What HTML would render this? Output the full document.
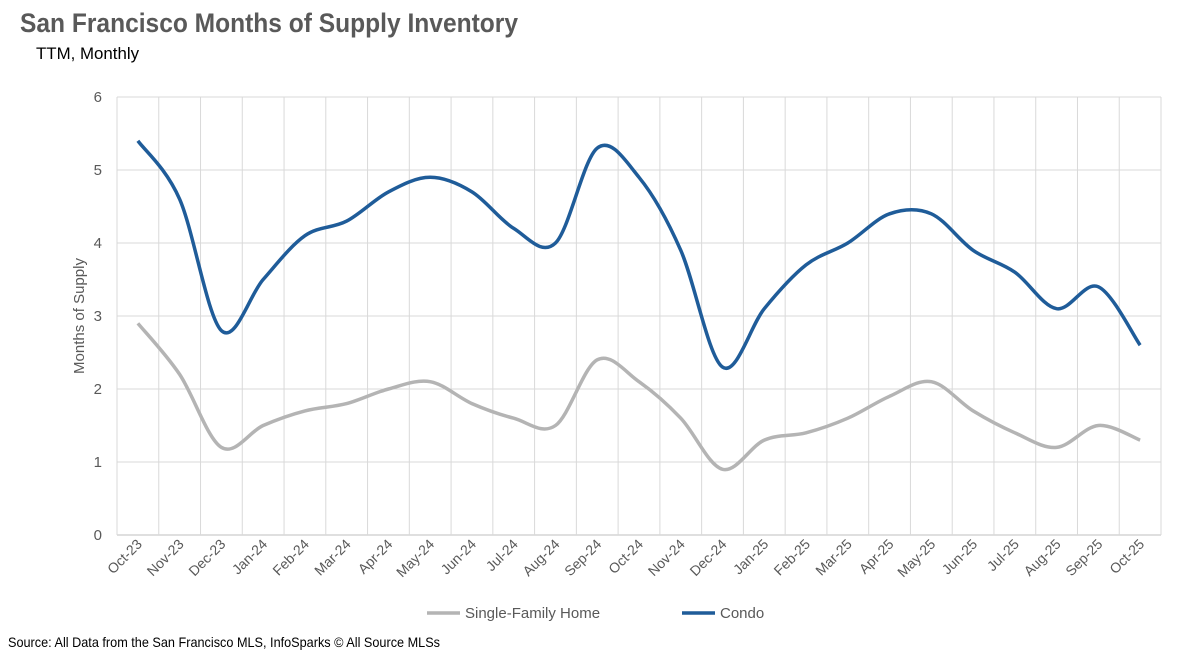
<!DOCTYPE html>
<html><head><meta charset="utf-8"><style>
html,body{margin:0;padding:0;background:#fff;}
svg{display:block;font-family:"Liberation Sans Narrow","Liberation Sans",sans-serif;}
</style></head><body>
<svg id="chart" width="1186" height="662" viewBox="0 0 1186 662">
<text x="20" y="32" font-size="27" font-weight="bold" fill="#595959" textLength="498" lengthAdjust="spacingAndGlyphs">San Francisco Months of Supply Inventory</text>
<text x="36" y="59" font-size="17" fill="#000" textLength="103" lengthAdjust="spacingAndGlyphs">TTM, Monthly</text>
<g id="grid"></g>
<g id="yaxis"></g>
<g id="xaxis"></g>
<text transform="translate(84,316) rotate(-90)" text-anchor="middle" font-size="15" fill="#595959">Months of Supply</text>
<g id="series"></g>
<g>
<g><line x1="427" y1="613" x2="460" y2="613" stroke="#b4b4b4" stroke-width="3.5"/><text x="465" y="618" font-size="15" fill="#595959">Single-Family Home</text></g>
<g><line x1="682" y1="613" x2="715" y2="613" stroke="#1f5c99" stroke-width="3.5"/><text x="720" y="618" font-size="15" fill="#595959">Condo</text></g>
</g>
<text x="8" y="647" font-size="14" fill="#000" textLength="432" lengthAdjust="spacingAndGlyphs">Source: All Data from the San Francisco MLS, InfoSparks © All Source MLSs</text>
</svg>
<script>
const categories=["Oct-23","Nov-23","Dec-23","Jan-24","Feb-24","Mar-24","Apr-24","May-24","Jun-24","Jul-24","Aug-24","Sep-24","Oct-24","Nov-24","Dec-24","Jan-25","Feb-25","Mar-25","Apr-25","May-25","Jun-25","Jul-25","Aug-25","Sep-25","Oct-25"];
const sfhValues=[2.9,2.2,1.2,1.5,1.7,1.8,2.0,2.1,1.8,1.6,1.5,2.4,2.1,1.6,0.9,1.3,1.4,1.6,1.9,2.1,1.7,1.4,1.2,1.5,1.3];
const condoValues=[5.4,4.6,2.8,3.5,4.1,4.3,4.7,4.9,4.7,4.2,4.0,5.3,4.9,3.9,2.3,3.1,3.7,4.0,4.4,4.4,3.9,3.6,3.1,3.4,2.6];
const yTicks=[0,1,2,3,4,5,6];
const NS="http://www.w3.org/2000/svg";
const L=117,R=1161,T=97,B=535,yMax=6;
const bw=(R-L)/categories.length;
const xs=i=>L+bw*(i+0.5);
const ys=v=>B-(v/yMax)*(B-T);
function mk(t,a,p){const e=document.createElementNS(NS,t);for(const k in a)e.setAttribute(k,a[k]);p.appendChild(e);return e;}
const grid=document.getElementById('grid'),ya=document.getElementById('yaxis'),xa=document.getElementById('xaxis'),se=document.getElementById('series');
yTicks.forEach(v=>{
  const l=mk('line',{x1:L,x2:R,y1:ys(v),y2:ys(v),stroke:v===0?'#bfbfbf':'#d9d9d9','stroke-width':1},grid);
  
  
  const t=mk('text',{x:102,y:ys(v)+5,'text-anchor':'end','font-size':15,fill:'#595959'},ya);
  t.textContent=v;
  
  
});
for(let i=0;i<=categories.length;i++){
  const l=mk('line',{x1:L+bw*i,x2:L+bw*i,y1:T,y2:B,stroke:'#d9d9d9','stroke-width':1},grid);
  
  
}
categories.forEach((c,i)=>{
  const x=xs(i)+5,y=545;
  const t=mk('text',{x:x,y:y,'text-anchor':'end','font-size':14,fill:'#595959',transform:`rotate(-45 ${x} ${y})`},xa);
  t.textContent=c;
  
  
});
function smooth(vals){
  const p=vals.map((v,i)=>[xs(i),ys(v)]);
  let d=`M${p[0][0]},${p[0][1]}`;
  for(let i=0;i<p.length-1;i++){
    const p0=p[i-1]||p[i],p1=p[i],p2=p[i+1],p3=p[i+2]||p[i+1],k=1/6;
    d+=` C${p1[0]+(p2[0]-p0[0])*k},${p1[1]+(p2[1]-p0[1])*k} ${p2[0]-(p3[0]-p1[0])*k},${p2[1]-(p3[1]-p1[1])*k} ${p2[0]},${p2[1]}`;
  }
  return d;
}
const s1=mk('path',{d:smooth(sfhValues),fill:'none',stroke:'#b4b4b4','stroke-width':3.5,'stroke-linejoin':'round'},se);


const s2=mk('path',{d:smooth(condoValues),fill:'none',stroke:'#1f5c99','stroke-width':3.5,'stroke-linejoin':'round'},se);


</script>
</body></html>
